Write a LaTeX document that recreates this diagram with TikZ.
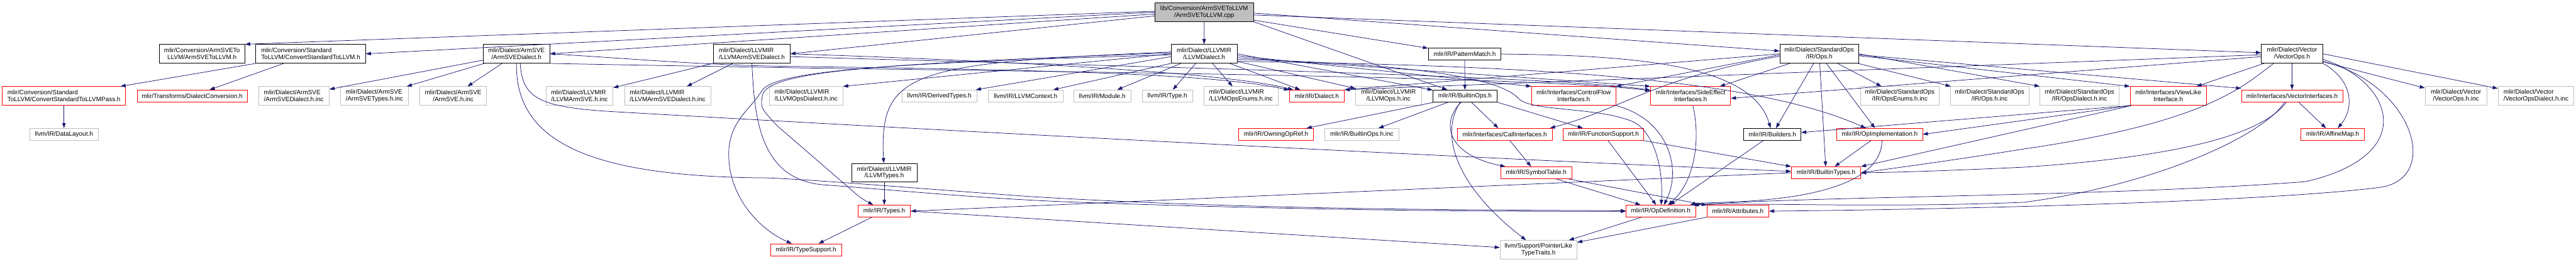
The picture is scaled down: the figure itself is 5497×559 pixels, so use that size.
\documentclass[tikz,border=0pt]{standalone}
\usepackage{fontspec}
\setmainfont{Liberation Sans}
\usetikzlibrary{arrows.meta}
\definecolor{edgec}{HTML}{191970}
\definecolor{grayc}{HTML}{BFBFBF}
\definecolor{redc}{HTML}{FF0000}
\newcommand{\nf}{\fontsize{13.33}{14.3}\selectfont}
\tikzset{
 nbox/.style={rectangle, inner sep=0pt, line width=1pt, font=\nf, text=black, align=center},
 nblk/.style={nbox, draw=black},
 nred/.style={nbox, draw=redc},
 ngry/.style={nbox, draw=grayc},
 nmain/.style={nbox, draw=black, fill=grayc},
 one/.style={minimum height=25.5pt},
 two/.style={minimum height=40pt},
 lft/.style={align=left},
 conn/.style={draw=edgec, line width=1pt, -{Triangle[length=11pt,width=7.5pt]}}
}
\begin{document}
\begin{tikzpicture}[x=1pt,y=-1pt]
\useasboundingbox (0,0) rectangle (5497,559);
% ---------- nodes ----------
\node[nmain,two,minimum width=210pt] (main) at (2569.6,26) {lib/Conversion/ArmSVEToLLVM\\/ArmSVEToLLVM.cpp};
\node[nblk,two,minimum width=183pt] (n1) at (431,115) {mlir/Conversion/ArmSVETo\\LLVM/ArmSVEToLLVM.h};
\node[nblk,two,lft,minimum width=234pt] (n2) at (663,115) {mlir/Conversion/Standard\\ToLLVM/ConvertStandardToLLVM.h};
\node[nred,two,lft,minimum width=263pt] (n3) at (136.5,205) {mlir/Conversion/Standard\\ToLLVM/ConvertStandardToLLVMPass.h};
\node[nred,one,minimum width=235pt] (n4) at (410,205) {mlir/Transforms/DialectConversion.h};
\node[ngry,one,minimum width=147pt] (n5) at (136.5,287) {llvm/IR/DataLayout.h};
\node[nblk,two,minimum width=142pt] (n6) at (1102,115) {mlir/Dialect/ArmSVE\\/ArmSVEDialect.h};
\node[ngry,two,lft,minimum width=150.5pt] (n7) at (627,205) {mlir/Dialect/ArmSVE\\/ArmSVEDialect.h.inc};
\node[ngry,two,lft,minimum width=146pt] (n8) at (799,205) {mlir/Dialect/ArmSVE\\/ArmSVETypes.h.inc};
\node[ngry,two,minimum width=143pt] (n9) at (967,205) {mlir/Dialect/ArmSVE\\/ArmSVE.h.inc};
\node[nblk,two,lft,minimum width=163pt] (n10) at (1604.5,115) {mlir/Dialect/LLVMIR\\/LLVMArmSVEDialect.h};
\node[ngry,two,lft,minimum width=143pt] (n11) at (1236.5,205) {mlir/Dialect/LLVMIR\\/LLVMArmSVE.h.inc};
\node[ngry,two,lft,minimum width=184pt] (n12) at (1424.5,205) {mlir/Dialect/LLVMIR\\/LLVMArmSVEDialect.h.inc};
\node[ngry,two,lft,minimum width=157pt] (n13) at (1720,205) {mlir/Dialect/LLVMIR\\/LLVMOpsDialect.h.inc};
\node[ngry,one,minimum width=160pt] (n14) at (2004.5,205) {llvm/IR/DerivedTypes.h};
\node[ngry,one,minimum width=159pt] (n15) at (2188.5,205) {llvm/IR/LLVMContext.h};
\node[nblk,two,minimum width=140pt] (n16) at (1887,369) {mlir/Dialect/LLVMIR\\/LLVMTypes.h};
\node[nred,one,minimum width=112pt] (n17) at (1887,451) {mlir/IR/Types.h};
\node[nred,one,minimum width=151.5pt] (n18) at (1720,533.5) {mlir/IR/TypeSupport.h};
\node[nblk,two,minimum width=141pt] (n19) at (2569.5,115) {mlir/Dialect/LLVMIR\\/LLVMDialect.h};
\node[ngry,one,minimum width=122pt] (n20) at (2352,205) {llvm/IR/Module.h};
\node[ngry,one,minimum width=108pt] (n21) at (2491,205) {llvm/IR/Type.h};
\node[ngry,two,lft,minimum width=158.5pt] (n22) at (2648,205) {mlir/Dialect/LLVMIR\\/LLVMOpsEnums.h.inc};
\node[nred,one,minimum width=159.5pt] (n23) at (2723,287) {mlir/IR/OwningOpRef.h};
\node[nred,one,minimum width=117.5pt] (n24) at (2810,205) {mlir/IR/Dialect.h};
\node[ngry,two,minimum width=140pt] (n25) at (2963,205) {mlir/Dialect/LLVMIR\\/LLVMOps.h.inc};
\node[nblk,one,minimum width=136.5pt] (n26) at (3126,205) {mlir/IR/BuiltinOps.h};
\node[nblk,one,minimum width=155pt] (n27) at (3125.5,115.5) {mlir/IR/PatternMatch.h};
\node[ngry,one,minimum width=157.5pt] (n28) at (2906,287) {mlir/IR/BuiltinOps.h.inc};
\node[nred,one,minimum width=202pt] (n29) at (3211,287) {mlir/Interfaces/CallInterfaces.h};
\node[nred,one,minimum width=152pt] (n30) at (3278,369) {mlir/IR/SymbolTable.h};
\node[ngry,two,minimum width=164pt] (n31) at (3283,533.6) {llvm/Support/PointerLike\\TypeTraits.h};
\node[nred,two,minimum width=179.5pt] (n32) at (3358,205) {mlir/Interfaces/ControlFlow\\Interfaces.h};
\node[nred,two,minimum width=171pt] (n33) at (3607.5,205) {mlir/Interfaces/SideEffect\\Interfaces.h};
\node[nred,one,minimum width=171pt] (n34) at (3421.5,287) {mlir/IR/FunctionSupport.h};
\node[nblk,one,minimum width=122pt] (n35) at (3782,287) {mlir/IR/Builders.h};
\node[nred,one,minimum width=148pt] (n36) at (3544,451) {mlir/IR/OpDefinition.h};
\node[nred,one,minimum width=132pt] (n37) at (3708.5,451) {mlir/IR/Attributes.h};
\node[nblk,two,minimum width=168pt] (n38) at (3882,115) {mlir/Dialect/StandardOps\\/IR/Ops.h};
\node[ngry,two,minimum width=168pt] (n39) at (4054,205) {mlir/Dialect/StandardOps\\/IR/OpsEnums.h.inc};
\node[ngry,two,minimum width=168pt] (n40) at (4245.7,205) {mlir/Dialect/StandardOps\\/IR/Ops.h.inc};
\node[nred,one,minimum width=183pt] (n41) at (4011,287) {mlir/IR/OpImplementation.h};
\node[nred,one,minimum width=148pt] (n42) at (3896.6,369) {mlir/IR/BuiltinTypes.h};
\node[ngry,two,minimum width=169pt] (n43) at (4437.5,205) {mlir/Dialect/StandardOps\\/IR/OpsDialect.h.inc};
\node[nred,two,minimum width=163pt] (n44) at (4627,205) {mlir/Interfaces/ViewLike\\Interface.h};
\node[nblk,two,minimum width=131pt] (n45) at (4891,115) {mlir/Dialect/Vector\\/VectorOps.h};
\node[nred,one,minimum width=216pt] (n46) at (4891,205) {mlir/Interfaces/VectorInterfaces.h};
\node[nred,one,minimum width=135pt] (n47) at (4977.5,287) {mlir/IR/AffineMap.h};
\node[ngry,two,minimum width=131.4pt] (n48) at (5240.7,205) {mlir/Dialect/Vector\\/VectorOps.h.inc};
\node[ngry,two,lft,minimum width=162pt] (n49) at (5411.6,205) {mlir/Dialect/Vector\\/VectorOpsDialect.h.inc};
% ---------- edges ----------
% main
\draw[conn] ([yshift=2pt]main.west) -- (n1.north east);
\draw[conn] (main.west) -- (n2.east);
\draw[conn] ([yshift=-4pt]main.west) -- (n6.east);
\draw[conn] ([yshift=-8pt]main.west) -- (n10.east);
\draw[conn] (main) -- (n19);
\draw[conn] (main) -- (n27);
\draw[conn] (main.south east) -- (n26);
\draw[conn] ([yshift=-2pt]main.east) -- (n38);
\draw[conn] ([yshift=-6pt]main.east) -- (n45);
% ConvertStandardToLLVM
\draw[conn] (n2.south west) -- (n3);
\draw[conn] (n2) -- (n4);
\draw[conn] (n3) -- (n5);
% ArmSVEDialect
\draw[conn] (n6) -- (n7);
\draw[conn] (n6) -- (n8);
\draw[conn] (n6) -- (n9);
\draw[conn] (n6.east) .. controls (1350,125) and (1500,140) .. (1700,142) .. controls (2300,150) and (2600,160) .. (n24);
\draw[conn] (n6.south east) .. controls (1400,140) and (1600,143) .. (1700,145) .. controls (2400,155) and (3300,165) .. (n33);
\draw[conn] (n6.south) .. controls (1100,300) and (1250,378) .. (1640,380) .. controls (1750,385) and (1900,398) .. (2200,420) .. controls (2700,450) and (3200,448) .. (n36);
\draw[conn] ([xshift=8pt]n6.south) .. controls (1115,210) and (1150,228) .. (1300,238) .. controls (2200,290) and (3300,345) .. (n42);
% LLVMArmSVEDialect
\draw[conn] (n10) -- (n11);
\draw[conn] (n10) -- (n12);
\draw[conn] (n10.east) .. controls (2000,125) and (2600,150) .. (n24);
\draw[conn] ([yshift=-6pt]n10.east) .. controls (2300,140) and (3300,160) .. (n33);
\draw[conn] (n10.south) .. controls (1610,250) and (1620,385) .. (1760,395) .. controls (1900,405) and (2100,425) .. (2300,432) .. controls (2800,450) and (3200,452) .. (n36);
% LLVMDialect
\draw[conn] (n19.west) -- (n13.north east);
\draw[conn] ([yshift=-6pt]n19.west) -- (n14);
\draw[conn] (n19.south west) -- (n15);
\draw[conn] (n19) -- (n20);
\draw[conn] (n19) -- (n21);
\draw[conn] (n19) -- (n22);
\draw[conn] (n19) -- (n24);
\draw[conn] (n19) -- (n25);
\draw[conn] (n19.east) -- (n26);
\draw[conn] ([yshift=-4pt]n19.east) -- (n32.north west);
\draw[conn] ([yshift=-8pt]n19.east) -- (n33.north west);
\draw[conn] ([yshift=-12pt]n19.east) .. controls (3000,135) and (3200,165) .. (3240,210) .. controls (3265,238) and (3400,228) .. (3480,258) .. controls (3525,275) and (3550,350) .. (n36);
\draw[conn] ([yshift=-16pt]n19.east) .. controls (3300,140) and (3750,170) .. (n41);
\draw[conn] ([yshift=4pt]n19.west) .. controls (1950,135) and (1875,150) .. (n16);
\draw[conn] ([yshift=2pt]n19.west) .. controls (1900,135) and (1650,150) .. (1628,200) .. controls (1622,230) .. (1660,270) -- (1808,398) .. controls (1835,422) .. (n17);
\draw[conn] ([yshift=-2pt]n19.west) .. controls (1900,135) and (1650,150) .. (1625,195) .. controls (1600,235) and (1555,260) .. (1555,330) .. controls (1555,420) and (1620,490) .. (n18);
% LLVMTypes, Types
\draw[conn] (n16) -- (n17);
\draw[conn] (n17) -- (n18);
\draw[conn] (n17.east) -- (n31);
% PatternMatch
\draw[conn] (n27) -- (n26);
\draw[conn] (n27.east) .. controls (3500,118) and (3740,140) .. (n35);
% BuiltinOps
\draw[conn] (n26) -- (n23);
\draw[conn] (n26) -- (n28);
\draw[conn] (n26) -- (n29);
\draw[conn] ([xshift=-8pt]n26.south) .. controls (3075,260) and (3085,330) .. (n30);
\draw[conn] ([xshift=-10pt]n26.south) .. controls (3070,290) and (3110,400) .. (n31);
\draw[conn] (n26.south east) -- (n34);
% CallInterfaces, SymbolTable
\draw[conn] (n29) -- (n30);
\draw[conn] (n30) -- (n36);
\draw[conn] (n30) -- (n37);
% interfaces, function support, builders
\draw[conn] (n32.south east) .. controls (3560,255) and (3590,360) .. (n36);
\draw[conn] (n33) .. controls (3630,300) and (3615,390) .. (n36);
\draw[conn] (n34) -- (n36);
\draw[conn] (n34.south east) -- (n42.north west);
\draw[conn] (n35) -- (n36);
\draw[conn] (n36) -- (n31);
\draw[conn] (n37) -- (n31);
% StandardOps
\draw[conn] (n38) -- (n39);
\draw[conn] (n38) -- (n40);
\draw[conn] (n38.east) -- (n43.north west);
\draw[conn] ([yshift=-4pt]n38.east) -- (n44.north west);
\draw[conn] ([yshift=-2pt]n38.east) -- ([yshift=3pt]n46.north west);
\draw[conn] (n38) -- (n35);
\draw[conn] (n38) -- (n42);
\draw[conn] (n38) -- (n41);
\draw[conn] (n38.west) -- (n24.north east);
\draw[conn] ([yshift=-5pt]n38.west) .. controls (3520,170) and (3470,230) .. ([xshift=-5pt]n29.north east);
\draw[conn] ([yshift=-2pt]n38.west) -- (n32.north east);
\draw[conn] (n38) -- (n33);
% OpImplementation
\draw[conn] (n41) -- (n42);
\draw[conn] ([xshift=5pt]n41.south) .. controls (4015,380) and (3900,425) .. (3680,432) .. controls (3640,433) and (3615,435) .. ([xshift=-12pt]n36.north east);
% BuiltinTypes
\draw[conn] (n42.west) -- (n17.east);
% ViewLike
\draw[conn] (n44.south west) -- ([yshift=4pt]n35.east);
\draw[conn] ([xshift=2pt]n44.south west) -- (n41.east);
\draw[conn] ([xshift=4pt]n44.south west) -- (n42.north east);
% VectorOps
\draw[conn] (n45) -- (n46);
\draw[conn] (n45.south east) .. controls (5020,170) and (5025,230) .. (n47);
\draw[conn] (n45) -- (n48);
\draw[conn] (n45.east) -- (n49);
\draw[conn] (n45) -- (n44);
\draw[conn] ([xshift=-39pt]n45.south) .. controls (4790,180) and (4720,260) .. (4320,318) .. controls (4150,345) and (4050,358) .. (n42.east);
\draw[conn] ([yshift=-16pt]n45.east) .. controls (5150,180) and (5210,380) .. (5080,400) .. controls (4850,430) and (4200,447) .. (n37.east);
\draw[conn] ([yshift=-12pt]n45.east) .. controls (5100,170) and (5170,330) .. (4920,388) .. controls (4500,420) and (3900,418) .. ([xshift=-4pt]n36.north east);
\draw[conn] ([yshift=-2pt]n45.west) -- (n24.north east);
\draw[conn] ([yshift=-6pt]n45.west) -- ([yshift=-5pt]n33.east);
% VectorInterfaces
\draw[conn] (n46) -- (n47);
\draw[conn] ([xshift=-12pt]n46.south) .. controls (4840,270) and (4720,330) .. (4320,357) .. controls (4150,365) and (4050,368) .. (n42.east);
\draw[conn] ([xshift=-16pt]n46.south) .. controls (4830,290) and (4600,395) .. (4320,432) .. controls (4000,445) and (3750,432) .. ([xshift=-8pt]n36.north east);
\end{tikzpicture}
\end{document}
